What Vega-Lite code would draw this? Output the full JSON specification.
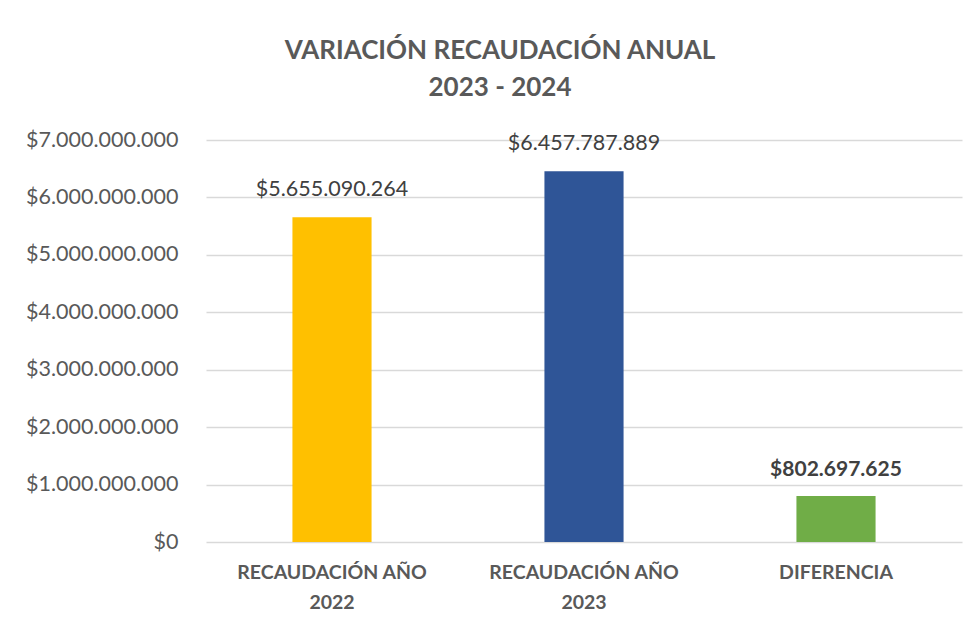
{
  "$schema": "https://vega.github.io/schema/vega-lite/v6.json",
  "width": 756,
  "height": 402,
  "autosize": {"type": "none"},
  "padding": {"left": 206, "top": 140, "right": 13, "bottom": 82},
  "background": "white",
  "title": {
    "text": ["VARIACIÓN RECAUDACIÓN ANUAL", "2023 - 2024"],
    "font": "Lato",
    "fontSize": 26,
    "fontWeight": "bold",
    "color": "#595959",
    "anchor": "middle",
    "dx": -84,
    "offset": 28,
    "lineHeight": 37
  },
  "config": {
    "locale": {"number": {"decimal": ",", "thousands": ".", "grouping": [3], "currency": ["$", ""]}},
    "view": {"stroke": null},
    "axis": {"labelFont": "Lato", "labelColor": "#595959"}
  },
  "data": {
    "values": [
      {"categoria": "RECAUDACIÓN AÑO 2022", "valor": 5655090264},
      {"categoria": "RECAUDACIÓN AÑO 2023", "valor": 6457787889},
      {"categoria": "DIFERENCIA", "valor": 802697625}
    ]
  },
  "encoding": {
    "x": {
      "field": "categoria",
      "type": "nominal",
      "sort": null,
      "scale": {"paddingInner": 0.686, "paddingOuter": 0.343},
      "axis": {
        "title": null,
        "labelAngle": 0,
        "labelFontSize": 19.5,
        "labelFontWeight": "bold",
        "labelPadding": 21,
        "labelLineHeight": 30,
        "labelLimit": 400,
        "domain": false,
        "ticks": false,
        "labelExpr": "indexof(datum.label,'AÑO')>0 ? [slice(datum.label,0,15), slice(datum.label,16)] : datum.label"
      }
    },
    "y": {
      "field": "valor",
      "type": "quantitative",
      "scale": {"domain": [0, 7000000000]},
      "axis": {
        "title": null,
        "format": "$,.0f",
        "values": [0, 1000000000, 2000000000, 3000000000, 4000000000, 5000000000, 6000000000, 7000000000],
        "labelOverlap": false,
        "labelFontSize": 21.5,
        "labelPadding": 28,
        "labelLimit": 400,
        "ticks": false,
        "domain": false,
        "gridColor": "#d9d9d9",
        "gridWidth": 1.3
      }
    }
  },
  "layer": [
    {
      "mark": {"type": "bar"},
      "encoding": {
        "color": {
          "field": "categoria",
          "type": "nominal",
          "sort": null,
          "scale": {"domain": ["RECAUDACIÓN AÑO 2022", "RECAUDACIÓN AÑO 2023", "DIFERENCIA"], "range": ["#FFC000", "#2F5597", "#70AD47"]},
          "legend": null
        }
      }
    },
    {
      "transform": [{"filter": "datum.categoria != 'DIFERENCIA'"}],
      "mark": {"type": "text", "font": "Lato", "fontSize": 21.5, "color": "#404040", "dy": -16, "baseline": "bottom"},
      "encoding": {"text": {"field": "valor", "type": "quantitative", "format": "$,.0f"}}
    },
    {
      "transform": [{"filter": "datum.categoria == 'DIFERENCIA'"}],
      "mark": {"type": "text", "font": "Lato", "fontSize": 21, "fontWeight": "bold", "color": "#404040", "dy": -16, "baseline": "bottom"},
      "encoding": {"text": {"field": "valor", "type": "quantitative", "format": "$,.0f"}}
    }
  ]
}
